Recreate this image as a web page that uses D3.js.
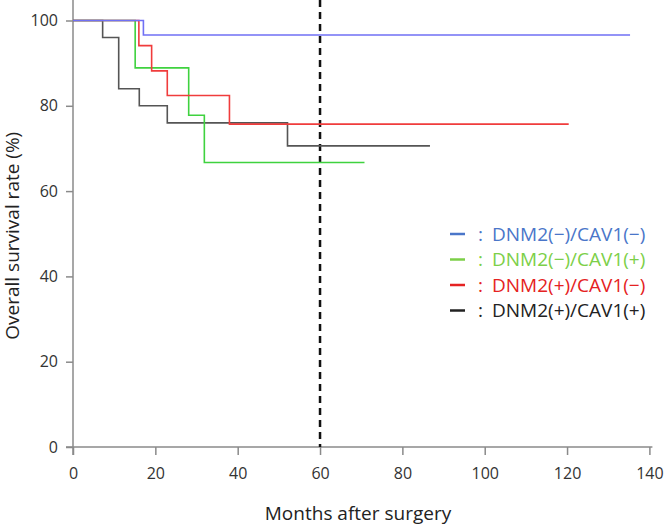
<!DOCTYPE html>
<html>
<head>
<meta charset="utf-8">
<script src="https://cdn.jsdelivr.net/npm/d3@7"></script>
<style>
  body { margin: 0; background: #fff; }
  text { font-family: "Open Sans", "Noto Sans", sans-serif; }
</style>
</head>
<body>
<div id="chart"></div>
<script>
// step data (months, survival %)
const blueTimes = [0, 17.1, 135.3];
const blueSurv = [100, 96.6, 96.6];
const greenTimes = [0, 15.1, 28.1, 31.9, 70.8];
const greenSurv = [100, 88.9, 77.8, 66.7, 66.7];
const redTimes = [0, 16.0, 19.1, 22.9, 38.0, 120.4];
const redSurv = [100, 94.1, 88.2, 82.4, 75.7, 75.7];
const blackTimes = [0, 7.2, 11.1, 16.1, 22.9, 52.1, 86.7];
const blackSurv = [100, 96, 84, 80, 76, 70.6, 70.6];

const groupNames = ["DNM2(\u2212)/CAV1(\u2212)", "DNM2(\u2212)/CAV1(+)", "DNM2(+)/CAV1(\u2212)", "DNM2(+)/CAV1(+)"];
const xTicks = [0, 20, 40, 60, 80, 100, 120, 140];
const yTicks = [0, 20, 40, 60, 80, 100];
const cutoffMonth = 60;

const width = 665, height = 526;
const margin = { top: 20.5, right: 15.6, bottom: 79, left: 73 };

const svg = d3.select("#chart").append("svg")
    .attr("width", width)
    .attr("height", height);

const x = d3.scaleLinear().domain([0, 140]).range([margin.left, width - margin.right]);
const y = d3.scaleLinear().domain([0, 100]).range([height - margin.bottom, margin.top]);

// axes
const axisColor = "#8a8a8a";
const xAxis = svg.append("g")
    .attr("transform", `translate(0,${y(0)})`)
    .call(d3.axisBottom(x).tickValues(xTicks).tickSize(8).tickPadding(13));
xAxis.select(".domain").remove();
xAxis.selectAll(".tick line").attr("stroke", axisColor).attr("stroke-width", 1.5);
xAxis.selectAll("text").attr("fill", "#333").style("font-size", "16px");
svg.append("line")
    .attr("x1", x(0) - 7).attr("x2", x(140) + 3)
    .attr("y1", y(0)).attr("y2", y(0))
    .attr("stroke", axisColor).attr("stroke-width", 1.5);

const yAxis = svg.append("g")
    .attr("transform", `translate(${x(0)},0)`)
    .call(d3.axisLeft(y).tickValues(yTicks).tickSize(7).tickPadding(8));
yAxis.select(".domain").remove();
yAxis.selectAll(".tick line").attr("stroke", axisColor).attr("stroke-width", 1.5);
yAxis.selectAll("text").attr("fill", "#333").style("font-size", "16px");
svg.append("line")
    .attr("x1", x(0)).attr("x2", x(0))
    .attr("y1", 0).attr("y2", y(0) + 8)
    .attr("stroke", axisColor).attr("stroke-width", 1.5);

// axis titles
svg.append("text")
    .attr("x", 358).attr("y", 520)
    .attr("text-anchor", "middle")
    .attr("fill", "#222")
    .style("font-size", "19px")
    .text("Months after surgery");

svg.append("text")
    .attr("transform", `translate(19,${y(50) + 2}) rotate(-90)`)
    .attr("text-anchor", "middle")
    .attr("fill", "#222")
    .style("font-size", "19px")
    .text("Overall survival rate (%)");

// 60 month cut-off
svg.append("line")
    .attr("x1", x(cutoffMonth)).attr("x2", x(cutoffMonth))
    .attr("y1", 0).attr("y2", y(0))
    .attr("stroke", "#111")
    .attr("stroke-width", 2.5)
    .attr("stroke-dasharray", "7,5");

// survival curves
const groups = [
    { times: blackTimes, surv: blackSurv, color: "#555555" },
    { times: greenTimes, surv: greenSurv, color: "#3fd23f" },
    { times: redTimes, surv: redSurv, color: "#f03c3c" },
    { times: blueTimes, surv: blueSurv, color: "#7070f5" }
];

const line = d3.line()
    .x((d) => x(d[0]))
    .y((d) => y(d[1]))
    .curve(d3.curveStepAfter);

groups.forEach((g) => {
    svg.append("path")
        .datum(g.times.map((t, i) => [t, g.surv[i]]))
        .attr("d", line)
        .attr("fill", "none")
        .attr("stroke", g.color)
        .attr("stroke-width", 1.6);
});

// legend
const legendColors = ["#4a76c9", "#7ccf48", "#e52222", "#222222"];
const legend = svg.append("g");
groupNames.forEach((name, i) => {
    const ly = 234 + i * 25.5;
    legend.append("line")
        .attr("x1", 450).attr("x2", 465)
        .attr("y1", ly).attr("y2", ly)
        .attr("stroke", legendColors[i])
        .attr("stroke-width", 2.5);
    legend.append("text")
        .attr("x", 478).attr("y", ly)
        .attr("dy", "0.35em")
        .attr("fill", legendColors[i])
        .style("font-size", "19px")
        .text(":");
    legend.append("text")
        .attr("x", 492).attr("y", ly)
        .attr("dy", "0.35em")
        .attr("fill", legendColors[i])
        .style("font-size", "19px")
        .text(name);
});
</script>
</body>
</html>
